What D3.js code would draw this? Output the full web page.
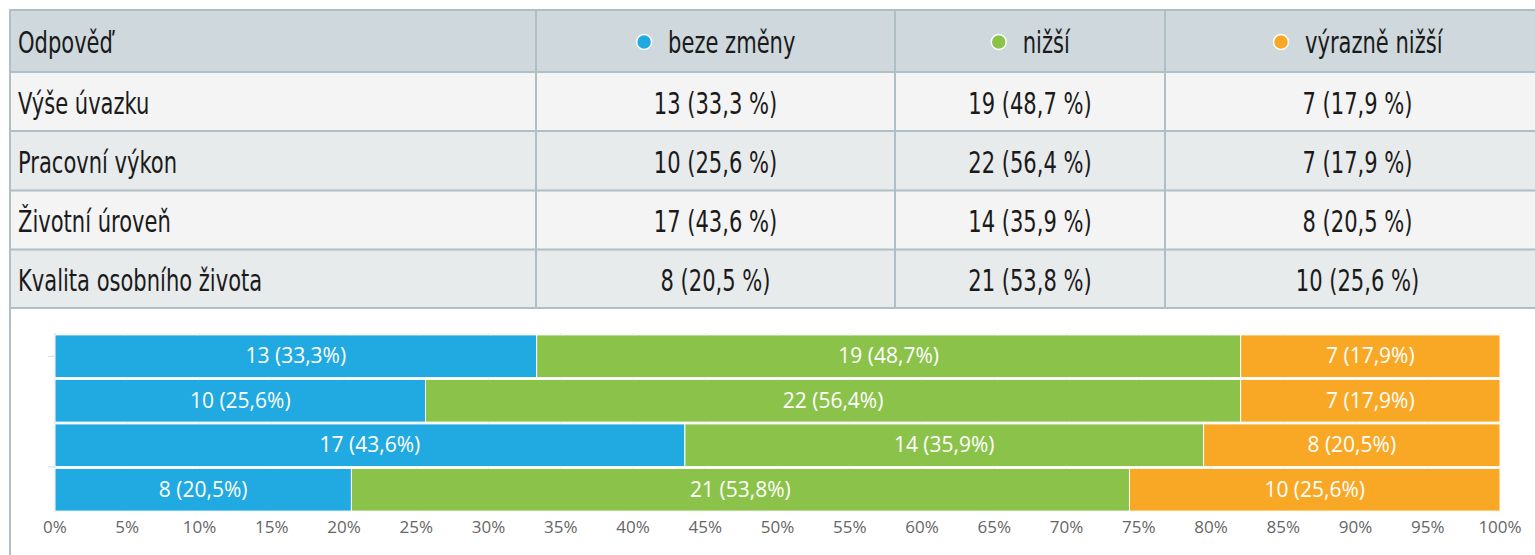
<!DOCTYPE html>
<html>
<head>
<meta charset="utf-8">
<script src="https://cdn.jsdelivr.net/npm/d3@7"></script>
<style>
  body { margin: 0; background: #fff; }
  svg { display: block; }
  .tbl text { font-family: "DejaVu Sans Condensed", "DejaVu Sans", sans-serif; font-stretch: condensed; font-size: 30px; fill: #1a1a1a; }
  .chart text { font-family: "Open Sans", "DejaVu Sans", sans-serif; }
</style>
</head>
<body>
<svg id="chart" width="1535" height="555"></svg>
<script>
// data
const categories = ["Výše úvazku", "Pracovní výkon", "Životní úroveň", "Kvalita osobního života"];
const seriesNames = ["beze změny", "nižší", "výrazně nižší"];
const bezeZmeny = [13, 10, 17, 8];
const nizsi = [19, 22, 14, 21];
const vyrazneNizsi = [7, 7, 8, 10];
const tickValues = d3.range(0, 101, 5);
const colors = ["#21a9e1", "#8bc34a", "#f9a825"];

const svg = d3.select("#chart");
const fmt = d3.formatLocale({decimal: ",", thousands: " ", grouping: [3], currency: ["", ""]}).format(".1f");

const rows = categories.map((c, i) => {
    const vals = [bezeZmeny[i], nizsi[i], vyrazneNizsi[i]];
    const total = d3.sum(vals);
    const r = {category: c, total: total};
    seriesNames.forEach((s, j) => { r[s] = vals[j] / total * 100; r[s + "_n"] = vals[j]; });
    return r;
});

// ---- table ----
const colEdges = [10, 536, 895, 1165, 1550];
const rowEdges = [10, 72, 131, 190.5, 249.5, 308];
const tbl = svg.append("g").attr("class", "tbl");
const rowFill = i => i === 0 ? "#cfd8dc" : (i % 2 === 1 ? "#f4f4f4" : "#e8ebec");

d3.range(rowEdges.length - 1).forEach(i => {
    tbl.append("rect")
        .attr("x", colEdges[0]).attr("y", rowEdges[i])
        .attr("width", colEdges[colEdges.length - 1] - colEdges[0])
        .attr("height", rowEdges[i + 1] - rowEdges[i])
        .attr("fill", rowFill(i));
});
// horizontal lines
tbl.selectAll("line.h").data(rowEdges).enter().append("line")
    .attr("x1", colEdges[0]).attr("x2", colEdges[colEdges.length - 1])
    .attr("y1", d => d).attr("y2", d => d)
    .attr("stroke", "#b0bec5").attr("stroke-width", 2);
// vertical lines between columns
tbl.selectAll("line.v").data(colEdges.slice(1, -1)).enter().append("line")
    .attr("x1", d => d).attr("x2", d => d)
    .attr("y1", rowEdges[0]).attr("y2", rowEdges[rowEdges.length - 1])
    .attr("stroke", "#b0bec5").attr("stroke-width", 2);
// outer left border through the chart area
svg.append("line").attr("x1", 10).attr("x2", 10).attr("y1", 9).attr("y2", 555)
    .attr("stroke", "#b0bec5").attr("stroke-width", 2);

const rowMid = i => (rowEdges[i] + rowEdges[i + 1]) / 2;
const colMid = j => (colEdges[j] + colEdges[j + 1]) / 2;

// squeeze text horizontally to mimic a narrow face
const narrow = 0.78;
function cellText(xPos, yPos, str, anchor) {
    const t = tbl.append("text")
        .attr("transform", `translate(${xPos},${yPos}) scale(${narrow},1)`)
        .attr("text-anchor", anchor || "start")
        .text(str);
    return t;
}

cellText(18, rowMid(0) + 12, "Odpověď");

// header legend entries
seriesNames.forEach((s, j) => {
    const g = tbl.append("g");
    const t = g.append("text")
        .attr("transform", `translate(24,${rowMid(0) + 12}) scale(${narrow},1)`)
        .text(s);
    g.append("circle").attr("cx", 0).attr("cy", rowMid(0) + 1).attr("r", 7.5)
        .attr("fill", colors[j]).attr("stroke", "#fff").attr("stroke-width", 1.5);
    const w = t.node().getComputedTextLength() * narrow + 24 + 8.5;
    g.attr("transform", `translate(${colMid(j + 1) - w / 2 + 8.5},0)`);
});

rows.forEach((r, i) => {
    cellText(18, rowMid(i + 1) + 12, r.category);
    seriesNames.forEach((s, j) => {
        cellText(colMid(j + 1), rowMid(i + 1) + 12, `${r[s + "_n"]} (${fmt(r[s])}\u00a0%)`, "middle");
    });
});

// ---- stacked bar chart ----
const chart = svg.append("g").attr("class", "chart");
const x = d3.scaleLinear().domain([0, 100]).range([55, 1500]);
const y = d3.scaleBand().domain(categories).range([334, 512]).paddingInner(0.04).paddingOuter(0.02);

// gridlines
chart.selectAll("line.grid").data(tickValues).enter().append("line")
    .attr("x1", d => x(d)).attr("x2", d => x(d))
    .attr("y1", 333).attr("y2", 512)
    .attr("stroke", "#e6e6e6").attr("stroke-width", 1);

// y axis line + ticks
chart.append("line").attr("x1", 55).attr("x2", 55).attr("y1", 333).attr("y2", 512)
    .attr("stroke", "#ccd6eb");
const yTicks = [y(categories[0]) + y.bandwidth() / 2, y(categories[3]) - 1.5];
chart.selectAll("line.ytick").data(yTicks).enter().append("line")
    .attr("x1", 48).attr("x2", 55).attr("y1", d => d).attr("y2", d => d)
    .attr("stroke", "#ccd6eb");

const stacked = d3.stack().keys(seriesNames)(rows);

const layers = chart.selectAll("g.layer").data(stacked).enter().append("g")
    .attr("fill", (d, i) => colors[i]);

layers.selectAll("rect").data(d => d).enter().append("rect")
    .attr("x", d => x(d[0]))
    .attr("y", d => y(d.data.category))
    .attr("width", d => x(d[1]) - x(d[0]))
    .attr("height", y.bandwidth())
    .attr("stroke", "#fff").attr("stroke-width", 1);

layers.each(function(layer) {
    d3.select(this).selectAll("text").data(layer).enter().append("text")
        .attr("x", d => (x(d[0]) + x(d[1])) / 2)
        .attr("y", d => y(d.data.category) + y.bandwidth() / 2 + 7)
        .attr("text-anchor", "middle")
        .attr("fill", "#fff")
        .attr("font-size", "21px")
        .text(d => `${d.data[layer.key + "_n"]} (${fmt(d.data[layer.key])}%)`);
});

// x axis labels
chart.selectAll("text.xl").data(tickValues).enter().append("text")
    .attr("x", d => x(d)).attr("y", 533)
    .attr("text-anchor", "middle")
    .attr("fill", "#666")
    .attr("font-size", "17px")
    .text(d => d + "%");
</script>
</body>
</html>
